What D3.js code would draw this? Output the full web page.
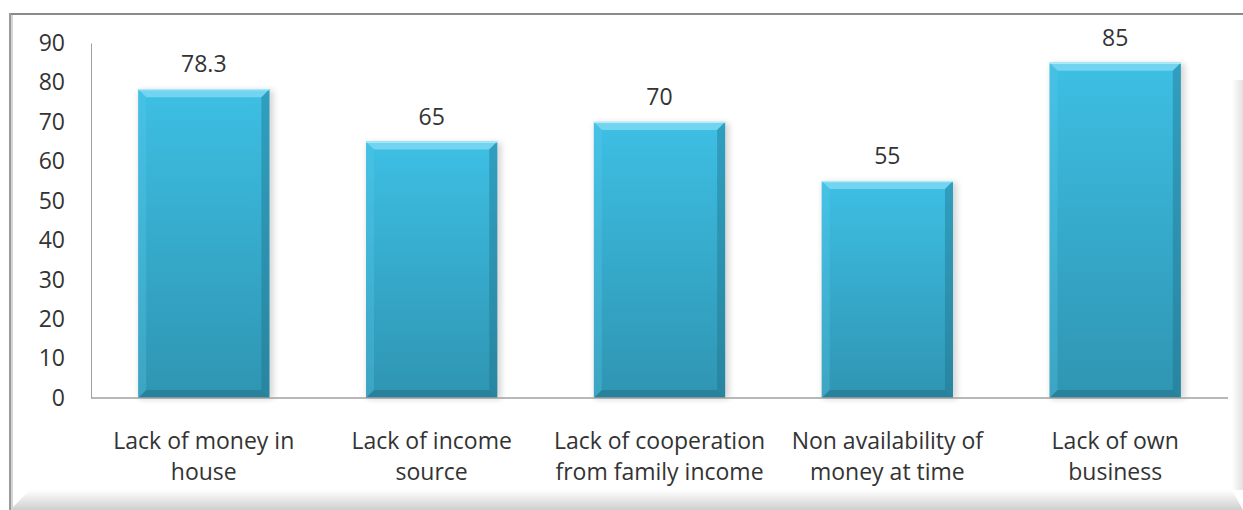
<!DOCTYPE html>
<html lang="en">
<head>
<meta charset="UTF-8">
<title>Reasons</title>
<script src="https://d3js.org/d3.v7.min.js"></script>
<style>
  body { margin: 0; background: #fff; }
  svg text { font-family: "Open Sans", Lato, sans-serif; fill: #333; }
</style>
</head>
<body>
<div id="chart"></div>
<script>
const categories = [
  "Lack of money in\nhouse",
  "Lack of income\nsource",
  "Lack of cooperation\nfrom family income",
  "Non availability of\nmoney at time",
  "Lack of own\nbusiness"
];
const values = [78.3, 65, 70, 55, 85];
const yTicks = [0, 10, 20, 30, 40, 50, 60, 70, 80, 90];

const width = 1243, height = 510;
const margin = { top: 43, right: 15, bottom: 112, left: 91 };
const fontSize = "23px";

const svg = d3.select("#chart").append("svg")
  .attr("width", width).attr("height", height);

const defs = svg.append("defs");
const body = defs.append("linearGradient").attr("id", "barBody")
  .attr("x1", 0).attr("y1", 0).attr("x2", 0).attr("y2", 1);
body.append("stop").attr("offset", "0%").attr("stop-color", "#3dbfe4");
body.append("stop").attr("offset", "100%").attr("stop-color", "#2f95b2");

const bottomShade = defs.append("linearGradient").attr("id", "frameBottom")
  .attr("x1", 0).attr("y1", 0).attr("x2", 0).attr("y2", 1);
bottomShade.append("stop").attr("offset", "0%").attr("stop-color", "#ffffff");
bottomShade.append("stop").attr("offset", "100%").attr("stop-color", "#cfcfcf");

const rightShade = defs.append("linearGradient").attr("id", "frameRight")
  .attr("x1", 0).attr("y1", 0).attr("x2", 1).attr("y2", 0);
rightShade.append("stop").attr("offset", "0%").attr("stop-color", "#ffffff");
rightShade.append("stop").attr("offset", "100%").attr("stop-color", "#e2e2e2");

const blur = defs.append("filter").attr("id", "soft")
  .attr("x", "-10%").attr("y", "-10%").attr("width", "130%").attr("height", "120%");
blur.append("feGaussianBlur").attr("stdDeviation", 3);

// frame
svg.append("polygon")
  .attr("points", `10,490 1232,490 1243,510 10,510`)
  .attr("fill", "url(#frameBottom)");
svg.append("polygon")
  .attr("points", `30,490 10,510 10,490`)
  .attr("fill", "#fff");
svg.append("rect").attr("x", 1232).attr("y", 80).attr("width", 11).attr("height", 410)
  .attr("fill", "url(#frameRight)");
svg.append("line").attr("x1", 9).attr("x2", 1243).attr("y1", 14).attr("y2", 14)
  .attr("stroke", "#8a8a8a").attr("stroke-width", 2);
svg.append("line").attr("x1", 10).attr("x2", 10).attr("y1", 13).attr("y2", 510)
  .attr("stroke", "#9a9a9a").attr("stroke-width", 2);
svg.append("line").attr("x1", 12).attr("x2", 12).attr("y1", 15).attr("y2", 510)
  .attr("stroke", "#d4d4d4").attr("stroke-width", 2);

const x = d3.scaleBand()
  .domain(categories)
  .range([margin.left, 1228])
  .paddingInner(0.424).paddingOuter(0.207);

const y = d3.scaleLinear().domain([0, 90])
  .range([height - margin.bottom, margin.top]);

// y axis
const yAxis = svg.append("g").attr("transform", `translate(${margin.left},0)`)
  .call(d3.axisLeft(y).tickValues(yTicks).tickSize(0).tickPadding(26));
yAxis.select(".domain").attr("stroke", "#a0a0a0");
yAxis.selectAll("text").style("font-size", fontSize).attr("fill", "#333")
  .style("font-family", "'Open Sans', Lato, sans-serif");

// bars
const bev = 8;
const bw = x.bandwidth();
const bars = svg.append("g").selectAll("g").data(values).enter().append("g")
  .attr("transform", (d, i) => `translate(${x(categories[i])},${y(d)})`);

bars.append("rect")
  .attr("x", 1).attr("y", 1)
  .attr("width", bw + 3)
  .attr("height", d => y(0) - y(d))
  .attr("fill", "#000").attr("opacity", 0.16).attr("filter", "url(#soft)");

bars.append("rect")
  .attr("width", bw)
  .attr("height", d => y(0) - y(d))
  .attr("fill", "url(#barBody)");

bars.append("polygon")
  .attr("points", `0,0 ${bw},0 ${bw - bev},${bev} ${bev},${bev}`)
  .attr("fill", "#80daf2").attr("opacity", 0.8);
bars.append("polygon")
  .attr("points", d => `0,0 ${bev},${bev} ${bev},${y(0) - y(d) - bev} 0,${y(0) - y(d)}`)
  .attr("fill", "#5ccbea").attr("opacity", 0.3);
bars.append("polygon")
  .attr("points", d => `${bw},0 ${bw},${y(0) - y(d)} ${bw - bev},${y(0) - y(d) - bev} ${bw - bev},${bev}`)
  .attr("fill", "#1f6f88").attr("opacity", 0.4);
bars.append("polygon")
  .attr("points", d => `0,${y(0) - y(d)} ${bev},${y(0) - y(d) - bev} ${bw - bev},${y(0) - y(d) - bev} ${bw},${y(0) - y(d)}`)
  .attr("fill", "#1d6479").attr("opacity", 0.4);
bars.append("rect").attr("width", bw).attr("height", 1.2).attr("fill", "#a8eefc");

// x axis line
svg.append("line")
  .attr("x1", margin.left).attr("x2", 1228)
  .attr("y1", y(0)).attr("y2", y(0))
  .attr("stroke", "#a0a0a0").attr("stroke-width", 1.5);

// value labels
svg.append("g").selectAll("text").data(values).enter().append("text")
  .attr("x", (d, i) => x(categories[i]) + bw / 2)
  .attr("y", d => y(d) - 17)
  .attr("text-anchor", "middle")
  .style("font-size", fontSize)
  .text(d => d);

// category labels
svg.append("g").selectAll("text").data(categories).enter().append("text")
  .attr("text-anchor", "middle")
  .style("font-size", fontSize)
  .attr("transform", d => `translate(${x(d) + bw / 2},449)`)
  .each(function(d) {
    d.split("\n").forEach((line, k) => {
      d3.select(this).append("tspan").attr("x", 0).attr("y", k * 31).text(line);
    });
  });
</script>
</body>
</html>
